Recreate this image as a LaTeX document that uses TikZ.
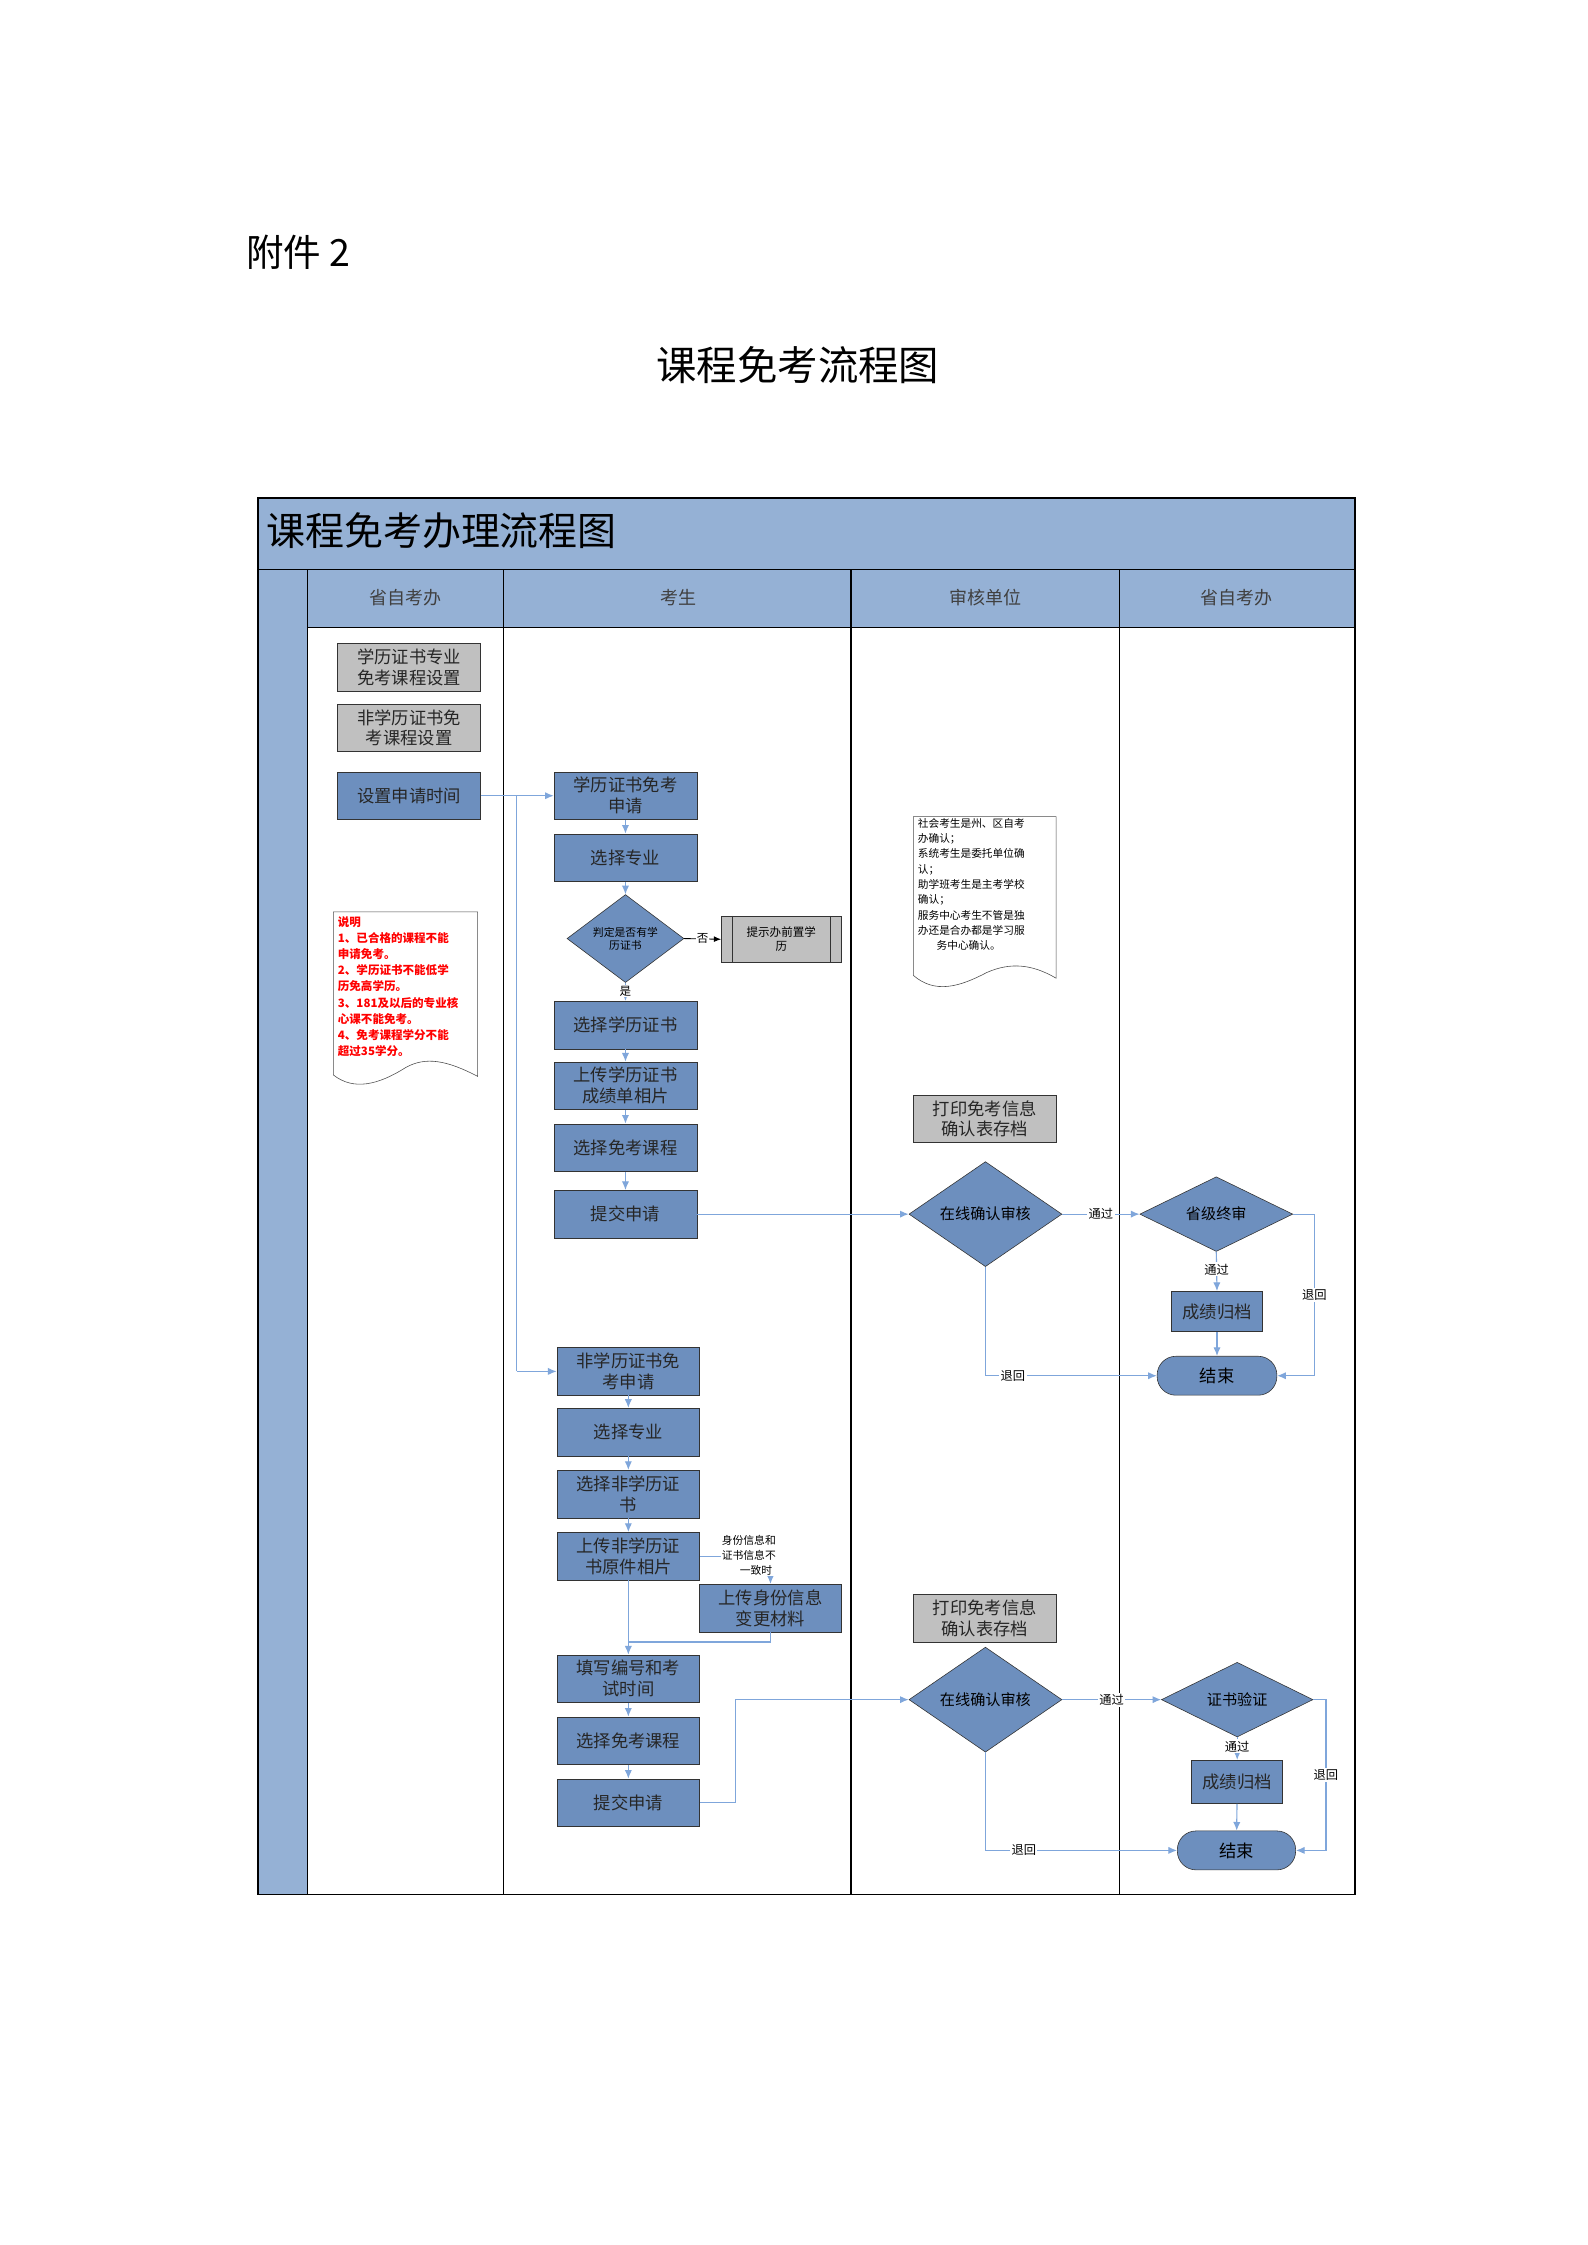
\documentclass[tikz,border=0pt]{standalone}
\usepackage{fontspec}
\newfontfamily\cjk{Noto Sans CJK SC}
\usetikzlibrary{shapes.geometric,arrows.meta}
\definecolor{hdr}{HTML}{95B1D5}
\definecolor{boxblue}{HTML}{6D8FBE}
\definecolor{boxgray}{HTML}{C0C0C0}
\definecolor{flowc}{HTML}{7FA6DB}
\tikzset{
 fs/.style={font=\cjk\pgfmathsetlengthmacro\mybls{#1*1.2}\fontsize{#1}{\mybls}\selectfont},
 bbox/.style={draw=black!80, fill=boxblue, minimum width=99pt, minimum height=33pt, inner sep=0pt, align=center, fs=12, text=black!85},
 gbox/.style={bbox, fill=boxgray},
 dia/.style={draw=black!80, fill=boxblue, diamond, inner sep=0pt, align=center, fs=10.5},
 term/.style={draw=black!80, fill=boxblue, rounded corners=13pt, minimum width=83pt, minimum height=27pt, inner sep=0pt, fs=12},
 flow/.style={draw=flowc, line width=0.8pt, -{Latex[length=6pt,width=5pt]}},
 fline/.style={draw=flowc, line width=0.8pt},
 lbl/.style={fs=8.5, fill=white, inner sep=1pt},
 lane/.style={fs=12.5, text=black!75},
}
\begin{document}
\begin{tikzpicture}[x=1pt,y=-1pt]
\useasboundingbox (0,0) rectangle (1100,1556);
\fill[white] (0,0) rectangle (1100,1556);
\node[anchor=west, fs=26] (fj) at (167,175) {附件 2};
\node[fs=28] (tt) at (553,253) {课程免考流程图};
% frame
\fill[hdr] (179,345) rectangle (939,435);
\fill[hdr] (179,435) rectangle (213,1313);
\draw[line width=1.2pt] (179,345) rectangle (939,1313);
\draw[line width=0.8pt] (179,395) -- (939,395);
\draw[line width=0.8pt] (213,435) -- (939,435);
\draw[line width=0.8pt] (213,395) -- (213,1313);
\draw[line width=1.2pt] (349,395) -- (349,1313);
\draw[line width=1.2pt] (590,395) -- (590,1313);
\draw[line width=1.2pt] (776,395) -- (776,1313);
\node[anchor=west, fs=27] (ht) at (181,368) {课程免考办理流程图};
\node[lane] (l1) at (281,414) {省自考办};
\node[lane] (l2) at (470,414) {考生};
\node[lane] (l3) at (683,414) {审核单位};
\node[lane] (l4) at (857,414) {省自考办};
% column 1
\node[gbox] (A) at (283.5,462.5) {学历证书专业\\免考课程设置};
\node[gbox] (B) at (283.5,504.5) {非学历证书免\\考课程设置};
\node[bbox] (C) at (283.5,551.5) {设置申请时间};
\draw[black!70, fill=white] (231,632) -- (331,632) -- (331,746) .. controls (310,735) and (295,732) .. (281,740) .. controls (262,752) and (245,756) .. (231,745) -- cycle;
\node[anchor=north west, align=left, text=red, font=\cjk\bfseries\fontsize{8}{11.2}\selectfont, inner sep=0pt] (nt) at (234,635) {说明\\1、已合格的课程不能\\申请免考。\\2、学历证书不能低学\\历免高学历。\\3、181及以后的专业核\\心课不能免考。\\4、免考课程学分不能\\超过35学分。};
% column 2 upper
\node[bbox] (k1) at (433.5,551.5) {学历证书免考\\申请};
\node[bbox] (k2) at (433.5,594.5) {选择专业};
\node[dia, minimum width=81pt, minimum height=47pt, fs=7.5] (d1) at (433.5,650.5) {判定是否有学\\历证书};
\node[draw=black!80, fill=boxgray, minimum width=83pt, minimum height=32pt, inner sep=0pt, align=center, fs=8] (p1) at (541.5,651) {提示办前置学\\历};
\draw[black!80] ([xshift=8pt]p1.north west) -- ([xshift=8pt]p1.south west) ([xshift=-8pt]p1.north east) -- ([xshift=-8pt]p1.south east);
\node[bbox] (k3) at (433.5,710.5) {选择学历证书};
\node[bbox] (k4) at (433.5,752.5) {上传学历证书\\成绩单相片};
\node[bbox] (k5) at (433.5,795.5) {选择免考课程};
\node[bbox] (k6) at (433.5,841.5) {提交申请};
% column 2 lower
\node[bbox] (n1) at (435.5,950.5) {非学历证书免\\考申请};
\node[bbox] (n2) at (435.5,992.5) {选择专业};
\node[bbox] (n3) at (435.5,1035.5) {选择非学历证\\书};
\node[bbox] (n4) at (435.5,1078.5) {上传非学历证\\书原件相片};
\node[bbox, minimum width=98pt] (n5) at (534,1114.5) {上传身份信息\\变更材料};
\node[bbox] (n6) at (435.5,1163.5) {填写编号和考\\试时间};
\node[bbox] (n7) at (435.5,1206.5) {选择免考课程};
\node[bbox] (n8) at (435.5,1249.5) {提交申请};
% column 3
\draw[black!70, fill=white] (633,566) -- (732,566) -- (732,678) .. controls (715,668) and (700,667) .. (684,674) .. controls (665,684) and (648,689) .. (633,676) -- cycle;
\node[anchor=north west, align=left, font=\cjk\fontsize{7.4}{10.6}\selectfont, inner sep=0pt, text width=97pt] (doc) at (636,567) {社会考生是州、区自考\\办确认；\\系统考生是委托单位确\\认；\\助学班考生是主考学校\\确认；\\服务中心考生不管是独\\办还是合办都是学习服\\\hspace*{13pt}务中心确认。};
\node[gbox] (q1) at (682.5,775.5) {打印免考信息\\确认表存档};
\node[dia, minimum width=106pt, minimum height=47pt] (a1) at (683,841.5) {在线确认审核};
\node[gbox] (q2) at (682.5,1121.5) {打印免考信息\\确认表存档};
\node[dia, minimum width=106pt, minimum height=47pt] (a2) at (683,1178) {在线确认审核};
% column 4
\node[dia, minimum width=106pt, minimum height=47pt] (f1) at (843,841.5) {省级终审};
\node[bbox, minimum width=63pt, minimum height=28pt] (g1) at (843.5,909) {成绩归档};
\node[term] (e1) at (843.5,953.5) {结束};
\node[dia, minimum width=105pt, minimum height=46pt] (f2) at (857.5,1178) {证书验证};
\node[bbox, minimum width=63pt, minimum height=30pt] (g2) at (857.5,1235) {成绩归档};
\node[term, minimum width=82pt] (e2) at (857,1282.5) {结束};
% connectors upper
\coordinate (br) at (358,551.5);
\draw[flow] (C.east) -- (k1.west);
\draw[fline] (br) -- (358,950.5);
\draw[flow] (358,950.5) -- (n1.west);
\draw[flow] (k1) -- (k2);
\draw[flow] (k2) -- (d1.north);
\draw[black, line width=0.6pt, -{Latex[length=5pt,width=4pt]}] (d1.east) -- node[fs=8, fill=white, inner sep=0.5pt]{否} (p1.west);
\draw[flow] (d1.south) -- node[fs=8, fill=white, inner sep=0.5pt, text=black, pos=0.45]{是} (k3.north);
\draw[flow] (k3) -- (k4);
\draw[flow] (k4) -- (k5);
\draw[flow] (k5) -- (k6);
\draw[flow] (k6.east) -- (a1.west);
\draw[flow] (a1.east) -- node[lbl]{通过} (f1.west);
\draw[flow] (f1.south) -- node[lbl, pos=0.45]{通过} (g1.north);
\draw[flow] (g1) -- (e1);
\draw[flow] (f1.east) -- (911,841.5) -- node[lbl]{退回} (911,953.5) -- (e1.east);
\draw[flow] (a1.south) |- node[lbl, pos=0.58]{退回} (e1.west);
% connectors lower
\draw[flow] (n1) -- (n2);
\draw[flow] (n2) -- (n3);
\draw[flow] (n3) -- (n4);
\draw[flow] (n4.east) -| (n5.north);
\node[fill=white, inner sep=0.5pt, align=center, font=\cjk\fontsize{7.5}{10.5}\selectfont] (cond) at (519,1078) {身份信息和\\证书信息不\\\hspace*{10pt}一致时};
\draw[flow] (n4.south) -- (n6.north);
\draw[fline] (n5.south) -- (534,1138) -- (435.5,1138);
\draw[flow] (n6) -- (n7);
\draw[flow] (n7) -- (n8);
\draw[flow] (n8.east) -- (510,1249.5) -- (510,1178) -- (a2.west);
\draw[flow] (a2.east) -- node[lbl]{通过} (f2.west);
\draw[flow] (f2.south) -- node[lbl, pos=0.4]{通过} (g2.north);
\draw[flow] (g2) -- (e2);
\draw[flow] (f2.east) -- (919,1178) -- node[lbl]{退回} (919,1282.5) -- (e2.east);
\draw[flow] (a2.south) |- node[lbl, pos=0.6]{退回} (e2.west);
\end{tikzpicture}
\end{document}
